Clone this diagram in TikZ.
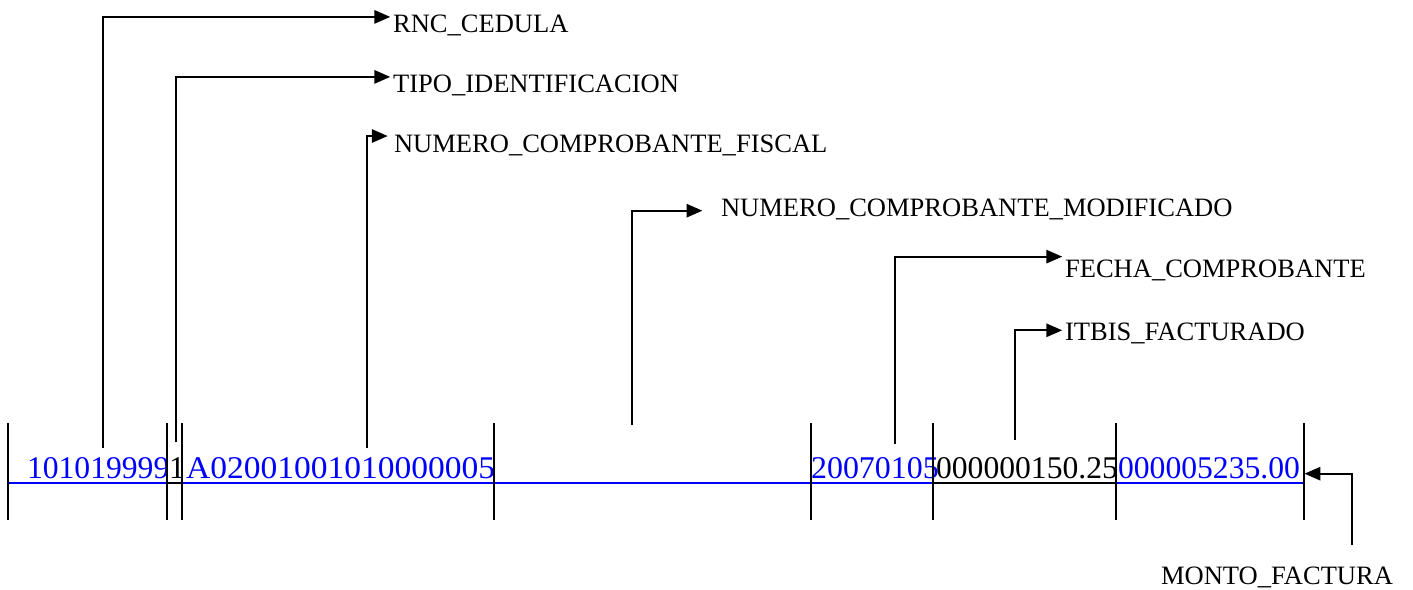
\documentclass[tikz,border=0pt]{standalone}
\usepackage{fontspec}
\setmainfont{Liberation Serif}
\usetikzlibrary{arrows.meta}
\definecolor{fieldblue}{RGB}{0,0,255}

\begin{document}
\begin{tikzpicture}[x=0.02cm, y=-0.02cm, line width=1.2pt,
    field/.style={anchor=base west, inner sep=0pt, font=\fontsize{18}{21}\selectfont, text=fieldblue},
    fname/.style={anchor=base west, inner sep=0pt, font=\fontsize{15.1}{18}\selectfont},
    >={Triangle[length=9pt, width=7.5pt]}]
  \useasboundingbox (0,0) rectangle (1413,589);
  % record fields
  \node (frnc) [field] at (26,478) {101019999};
  \node (ftipo) [field, text=black] at (168,478) {1};
  \node (fncf) [field] at (185,478) {\scalebox{1.06}[1]{A02001001010000005}};
  \node (ffecha) [field] at (810,478) {\scalebox{1.01}[1]{20070105}};
  \node (fitbis) [field, text=black] at (935,478) {000000150.25};
  \node (fmonto) [field] at (1117,478) {000005235.00};
  \draw [fieldblue] (8,483) -- (1304,483);
  \draw (167,483) -- (182,483) (933,483) -- (1116,483);
  \foreach \x in {8,167,182,494,811,933,1116,1304}
    \draw (\x,423) -- (\x,520);
  % field names
  \node (rnc) [fname] at (392,32) {RNC\_CEDULA};
  \node (tipo) [fname] at (392,92) {TIPO\_IDENTIFICACION};
  \node (ncf) [fname] at (393,152) {NUMERO\_COMPROBANTE\_FISCAL};
  \node (ncfmod) [fname] at (720,216) {NUMERO\_COMPROBANTE\_MODIFICADO};
  \node (fecha) [fname] at (1064,277) {FECHA\_COMPROBANTE};
  \node (itbis) [fname] at (1064,340) {ITBIS\_FACTURADO};
  \node (monto) [fname] at (1160,584) {MONTO\_FACTURA};
  \coordinate (rncfoot) at (103,448);
  \coordinate (tipofoot) at (176,442);
  \coordinate (ncffoot) at (367,448);
  \coordinate (modfoot) at (632,425);
  \coordinate (fechafoot) at (895,444);
  \coordinate (itbisfoot) at (1015,440);
  \coordinate (montofoot) at (1352,545);
  \draw [->] (rncfoot) |- ([xshift=-1pt, yshift=-2pt]rnc.north west);
  \draw [->] (tipofoot) |- ([xshift=-1pt, yshift=-2pt]tipo.north west);
  \draw [->] (ncffoot) |- ([xshift=-3pt, yshift=-1.5pt]ncf.north west);
  \draw [->] (modfoot) |- ([xshift=-10pt, yshift=-1pt]ncfmod.west);
  \draw [->] (fechafoot) |- ([xshift=-1pt, yshift=1pt]fecha.north west);
  \draw [->] (itbisfoot) |- ([xshift=-1pt, yshift=1.5pt]itbis.west);
  \draw [->] (montofoot) |- ([xshift=2pt, yshift=-3.4pt]fmonto.east);
\end{tikzpicture}
\end{document}
